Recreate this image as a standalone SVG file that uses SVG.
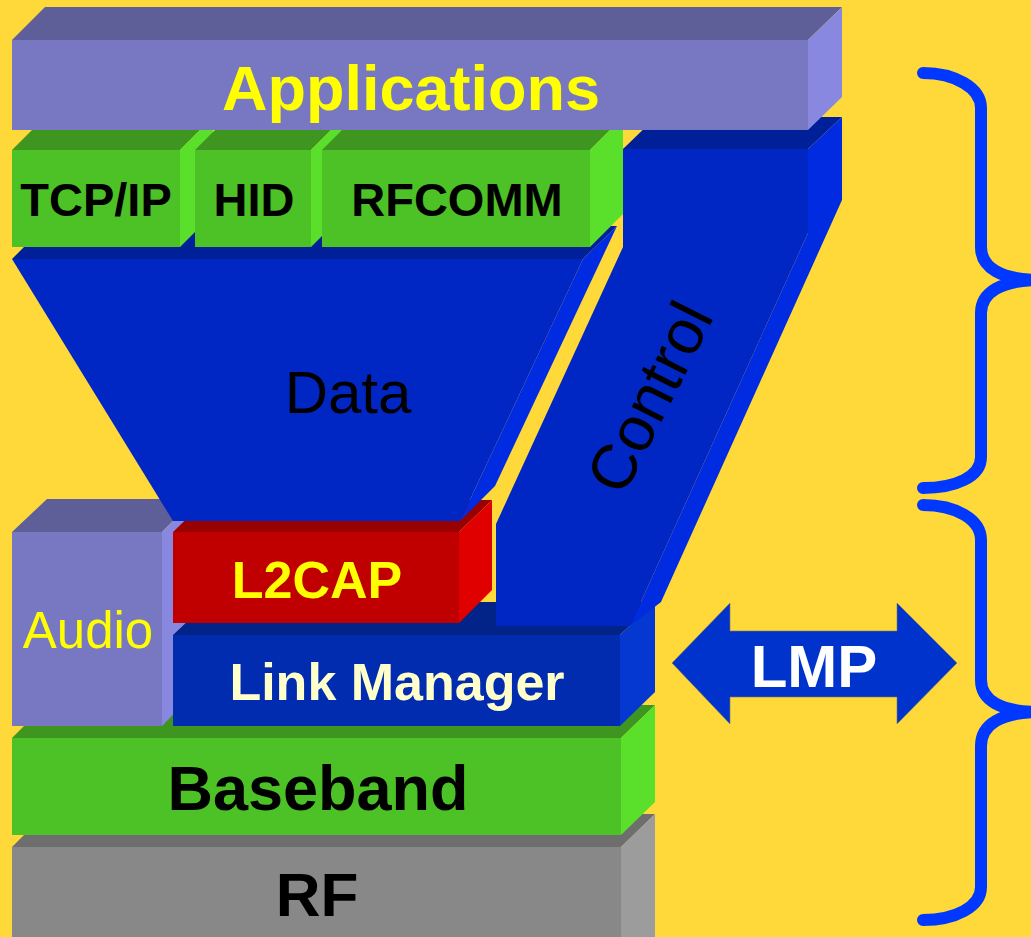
<svg xmlns="http://www.w3.org/2000/svg" width="1031" height="937" viewBox="0 0 1031 937">
<style>
text{font-family:"Liberation Sans",Arial,Helvetica,sans-serif;text-anchor:middle}
.b{font-weight:bold}
.pf{fill:#7777C2}.pt{fill:#5E5E99}.ps{fill:#8888E0}
.gf{fill:#4DC227}.gt{fill:#3E9620}.gs{fill:#5AE02A}
.bf{fill:#0027C4}.bt{fill:#00209A}.bs{fill:#002BE0}
.lf{fill:#022CAF}.lt{fill:#022388}.ls{fill:#0538D0}
.rf{fill:#C00000}.rt{fill:#990000}.rs{fill:#E00000}
.af{fill:#888888}.at{fill:#6E6E6E}.as{fill:#9C9C9C}
.brace{fill:none;stroke:#0038FF;stroke-width:12;stroke-linecap:round;stroke-linejoin:round}
</style>
<rect width="1031" height="937" fill="#FFD83A"/>

<g id="rf">
<polygon class="at" points="12,847 45,814 655,814 621,847"/>
<polygon class="as" points="621,847 655,814 655,937 621,937"/>
<rect class="af" x="12" y="847" width="609" height="95"/>
<text class="b" x="317" y="916" font-size="62" fill="#000">RF</text>
</g>

<g id="baseband">
<polygon class="gt" points="12,738 45,705 655,705 621,738"/>
<polygon class="gs" points="621,738 655,705 655,802 621,835"/>
<rect class="gf" x="12" y="738" width="609" height="97"/>
<text class="b" x="318" y="810" font-size="63" fill="#000">Baseband</text>
</g>

<g id="audio">
<polygon class="pt" points="12,532 47,499 195,499 162,532"/>
<polygon class="ps" points="162,532 195,499 195,692 162,726"/>
<rect class="pf" x="12" y="532" width="150" height="194"/>
<text x="88" y="648" font-size="51" fill="#FFFF00">Audio</text>
</g>

<g id="link-manager">
<polygon class="lt" points="173,635 208,602 655,602 620,635"/>
<polygon class="ls" points="620,635 655,602 655,692 620,726"/>
<rect class="lf" x="173" y="635" width="447" height="91"/>
<text class="b" x="397" y="700" font-size="52" fill="#FFFFCC">Link Manager</text>
</g>

<g id="l2cap">
<polygon class="rt" points="173,532 206,500 492,500 459,532"/>
<polygon class="rs" points="459,532 492,500 492,590 459,623"/>
<rect class="rf" x="173" y="532" width="286" height="91"/>
<text class="b" x="317" y="598" font-size="52" fill="#FFFF00">L2CAP</text>
</g>

<g id="data">
<polygon class="bt" points="12,259 45,226 617,226 583,259"/>
<polygon class="bs" points="583,259 617,226 495,486 460,521"/>
<polygon class="bf" points="12,259 583,259 460,521 173,521"/>
<text x="348" y="413" font-size="60" fill="#000">Data</text>
</g>

<g id="control">
<polygon class="bt" points="623,149 656,117 842,117 808,149"/>
<polygon class="bs" points="808,149 842,117 842,200 661,602 630,626 808,233"/>
<polygon class="bf" points="623,149 808,149 808,233 630,626 496,626 496,524 623,247"/>
<text transform="translate(669,407) rotate(-63.3)" x="0" y="0" font-size="63" fill="#000">Control</text>
</g>

<g id="tcpip">
<polygon class="gt" points="12,150 45,117 213,117 180,150"/>
<polygon class="gs" points="180,150 213,117 213,214 180,247"/>
<rect class="gf" x="12" y="150" width="168" height="97"/>
<text class="b" x="96" y="216" font-size="47" fill="#000">TCP/IP</text>
</g>

<g id="hid">
<polygon class="gt" points="195,150 228,117 344,117 311,150"/>
<polygon class="gs" points="311,150 344,117 344,214 311,247"/>
<rect class="gf" x="195" y="150" width="116" height="97"/>
<text class="b" x="254" y="216" font-size="47" fill="#000">HID</text>
</g>

<g id="rfcomm">
<polygon class="gt" points="322,150 355,117 623,117 590,150"/>
<polygon class="gs" points="590,150 623,117 623,214 590,247"/>
<rect class="gf" x="322" y="150" width="268" height="97"/>
<text class="b" x="457" y="216" font-size="47" fill="#000">RFCOMM</text>
</g>

<g id="applications">
<polygon class="pt" points="12,40 45,7 842,7 808,40"/>
<polygon class="ps" points="808,40 842,7 842,97 808,130"/>
<rect class="pf" x="12" y="40" width="796" height="90"/>
<text class="b" x="411" y="110" font-size="63" fill="#FFFF00">Applications</text>
</g>

<g id="lmp">
<polygon points="672,663 730,603 730,631 897,631 897,603 957,663 897,724 897,697 730,697 730,724" fill="#0033CC" stroke="#7a7a66" stroke-width="0.6"/>
<text class="b" x="814" y="687" font-size="60" fill="#FFFFFF">LMP</text>
</g>

<g id="connectors">
<path class="brace" d="M923,73 C955,73 981,88 981,108 L981,247 C981,267 1000,280 1040,280 C1000,280 981,293 981,313 L981,457 C981,477 955,488 923,488"/>
<path class="brace" d="M923,505 C955,505 981,519 981,540 L981,680 C981,700 1000,712 1040,712 C1000,712 981,725 981,746 L981,887 C981,907 955,920 923,920"/>
</g>
</svg>
